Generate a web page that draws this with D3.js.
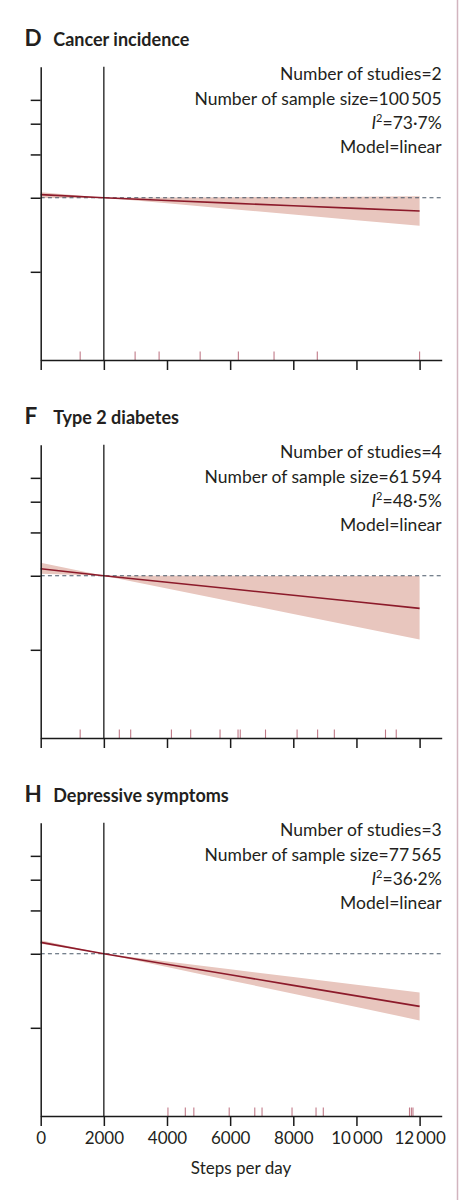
<!DOCTYPE html>
<html><head><meta charset="utf-8">
<script src="https://cdn.jsdelivr.net/npm/d3@7"></script>
<style>
html,body{margin:0;padding:0;background:#fff;}
svg{display:block;}
text{font-family:Lato,"Noto Sans",sans-serif;fill:#231f20;}
</style></head>
<body>
<svg id="chart" width="465" height="1200"></svg>
<script>
// ---- data ----
const panelLetters = ["D", "F", "H"];
const panelTitles = ["Cancer incidence", "Type 2 diabetes", "Depressive symptoms"];
const numStudies = [2, 4, 3];
const sampleSizes = ["100\u2009505", "61\u2009594", "77\u2009565"];
const i2Values = ["73·7%", "48·5%", "36·2%"];
const models = ["linear", "linear", "linear"];

const steps = [0, 2000, 4000, 6000, 8000, 10000, 12000];

const cancerRR = [1.03, 1.0, 0.975, 0.951, 0.928, 0.905, 0.883];
const cancerLo = [0.997, 1.0, 0.949, 0.901, 0.855, 0.811, 0.77];
const cancerHi = [1.054, 1.0, 1.003, 1.005, 1.008, 1.010, 1.013];

const diabetesRR = [1.068, 1.0, 0.941, 0.885, 0.833, 0.784, 0.737];
const diabetesLo = [1.02, 1.0, 0.888, 0.788, 0.699, 0.621, 0.551];
const diabetesHi = [1.13, 1.0, 0.999, 0.999, 0.998, 0.998, 0.998];

const depressionRR = [1.112, 1.0, 0.906, 0.821, 0.744, 0.674, 0.611];
const depressionLo = [1.098, 1.0, 0.883, 0.779, 0.688, 0.607, 0.536];
const depressionHi = [1.135, 1.0, 0.930, 0.865, 0.805, 0.748, 0.696];

const cancerRug = [1250, 2990, 3750, 5050, 6260, 7390, 8760, 12000];
const diabetesRug = [1250, 2490, 2850, 4140, 4750, 5680, 6250, 6320, 7120, 8120, 8770, 9300, 10920, 11260];
const depressionRug = [4030, 4580, 4850, 5970, 6780, 7010, 7960, 8720, 8950, 11680, 11740, 11790];

const xTicks = [0, 2000, 4000, 6000, 8000, 10000, 12000];
const yTicks = [0.5, 1, 1.5, 2, 2.5];
const referenceSteps = 2000;
const xLabel = "Steps per day";

const series = [
  {rr: cancerRR, lo: cancerLo, hi: cancerHi, rug: cancerRug},
  {rr: diabetesRR, lo: diabetesLo, hi: diabetesHi, rug: diabetesRug},
  {rr: depressionRR, lo: depressionLo, hi: depressionHi, rug: depressionRug}
];

// ---- drawing ----
const svg = d3.select("#chart");
const panelStep = 378;
const x = d3.scaleLinear().domain([0, 12700]).range([40.7, 441.7]);
const y = d3.scaleLog().domain([0.219, 3.41]).range([360, 66.7]);

const fmt = d => d >= 10000 ? d3.format(",")(d).replace(",", "\u2009") : String(d);

const lineColor = "#8c1a2a";
const bandColor = "#e8c6be";
const rugColor = "#c07a88";
const axisColor = "#1a1a1a";

series.forEach((s, i) => {
  const g = svg.append("g").attr("transform", `translate(0,${i * panelStep})`);
  const pts = steps.map((st, k) => ({x: st, rr: s.rr[k], lo: s.lo[k], hi: s.hi[k]}));

  // band
  g.append("path").datum(pts)
    .attr("d", d3.area().x(d => x(d.x)).y0(d => y(d.lo)).y1(d => y(d.hi)))
    .attr("fill", bandColor).attr("stroke", "none");

  // reference dashed line
  g.append("line")
    .attr("x1", x(0)).attr("x2", x(12700))
    .attr("y1", y(1)).attr("y2", y(1))
    .attr("stroke", "#4a5868").attr("stroke-width", 1.1)
    .attr("stroke-dasharray", "4,3.2");

  // curve
  g.append("path").datum(pts)
    .attr("d", d3.line().x(d => x(d.x)).y(d => y(d.rr)))
    .attr("fill", "none").attr("stroke", lineColor).attr("stroke-width", 1.6);

  // vertical reference line
  g.append("line")
    .attr("x1", x(referenceSteps)).attr("x2", x(referenceSteps))
    .attr("y1", y.range()[1]).attr("y2", y.range()[0])
    .attr("stroke", axisColor).attr("stroke-width", 1.3);

  // rug
  g.selectAll("line.rug").data(s.rug).join("line")
    .attr("class", "rug")
    .attr("x1", d => x(d)).attr("x2", d => x(d))
    .attr("y1", y.range()[0] - 8.5).attr("y2", y.range()[0])
    .attr("stroke", rugColor).attr("stroke-width", 1.1);

  // y axis
  const ya = g.append("g").attr("transform", `translate(${x(0)},0)`)
    .call(d3.axisLeft(y).tickValues(yTicks).tickFormat("").tickSize(10).tickSizeOuter(0));
  ya.selectAll("path,line").attr("stroke", axisColor).attr("stroke-width", 1.5);

  // x axis
  const xa = g.append("g").attr("transform", `translate(0,${y.range()[0]})`)
    .call(d3.axisBottom(x).tickValues(xTicks).tickSize(10).tickSizeOuter(0)
      .tickFormat(i === series.length - 1 ? fmt : ""));
  xa.selectAll("path,line").attr("stroke", axisColor).attr("stroke-width", 1.5);
  xa.selectAll("text").attr("y", 27.6).attr("dy", 0)
    .style("font-family", "Lato, 'Noto Sans', sans-serif")
    .style("font-size", "17px").attr("fill", "#231f20");

  // title
  g.append("text").attr("x", 24.5).attr("y", 46)
    .style("font-weight", "700").style("font-size", "22.5px").text(panelLetters[i]);
  g.append("text").attr("x", 53.3).attr("y", 46)
    .style("font-weight", "700").style("font-size", "18px").text(panelTitles[i]);

  // annotations
  const ax = 441.7;
  const ann = g.append("g").style("font-size", "17.5px").attr("text-anchor", "end");
  ann.append("text").attr("x", ax).attr("y", 80).text(`Number of studies=${numStudies[i]}`);
  ann.append("text").attr("x", ax).attr("y", 104.5).text(`Number of sample size=${sampleSizes[i]}`);
  const t3 = ann.append("text").attr("x", ax).attr("y", 128.5);
  t3.append("tspan").style("font-style", "italic").text("I");
  t3.append("tspan").attr("dy", -7).style("font-size", "11px").text("2");
  t3.append("tspan").attr("dy", 7).text(`=${i2Values[i]}`);
  ann.append("text").attr("x", ax).attr("y", 152.7).text(`Model=${models[i]}`);
});

// x-axis title
svg.append("text").attr("x", 241).attr("y", 1174).attr("text-anchor", "middle")
  .style("font-size", "17px").text(xLabel);

// right border rule
svg.append("line").attr("x1", 457.5).attr("x2", 457.5).attr("y1", 0).attr("y2", 1200)
  .attr("stroke", "#d2b4bf").attr("stroke-width", 1.5);
</script>
</body></html>
